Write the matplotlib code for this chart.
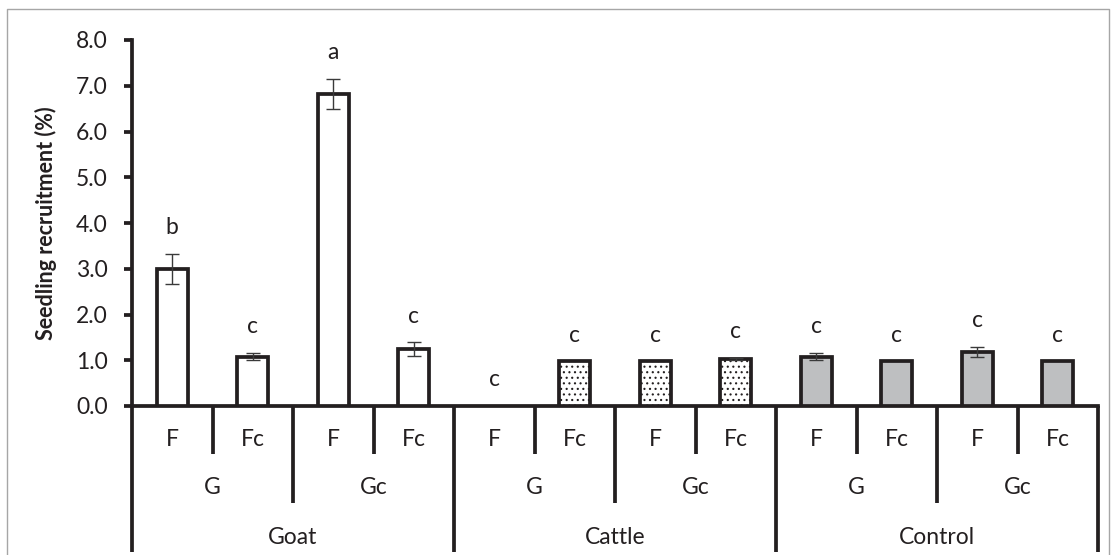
import matplotlib
matplotlib.use("Agg")
import matplotlib.pyplot as plt
from matplotlib.lines import Line2D

plt.rcParams["font.family"] = ["Lato", "DejaVu Sans"]
plt.rcParams["hatch.linewidth"] = 0.8

# ── Data ───────────────────────────────────────────────────────────────────
animals = ["Goat", "Cattle", "Control"]
g_levels = ["G", "Gc"]
f_levels = ["F", "Fc"]

means = [3.00, 1.08, 6.82, 1.24,      # Goat
         0.00, 0.98, 0.98, 1.03,      # Cattle
         1.08, 0.98, 1.18, 0.98]      # Control
errors = [0.33, 0.08, 0.33, 0.15,
          0.00, 0.00, 0.00, 0.02,
          0.08, 0.00, 0.11, 0.00]
letters = ["b", "c", "a", "c",
           "c", "c", "c", "c",
           "c", "c", "c", "c"]

# ── Style ──────────────────────────────────────────────────────────────────
INK = "#231F20"
LW = 2.7
FS = 16.5
fills = {"Goat": "white", "Cattle": "white", "Control": "#BEBFC1"}
hatches = {"Goat": None, "Cattle": "...", "Control": None}

fig = plt.figure(figsize=(11.12, 5.55), dpi=100)
ax = fig.add_axes([132 / 1112, 1 - 406 / 555, 966 / 1112, 366 / 555])

n = len(means)
xs = list(range(n))
for i in xs:
    animal = animals[i // 4]
    if means[i] > 0:
        ax.bar(i, means[i], width=0.38, color=fills[animal], edgecolor=INK,
               linewidth=LW, hatch=hatches[animal], zorder=3)
    if errors[i] > 0:
        ax.errorbar(i, means[i], yerr=errors[i], fmt="none", ecolor="#3A3A3A",
                    elinewidth=1.0, capsize=5, capthick=1.0, zorder=4)
    ax.text(i, means[i] + errors[i] + 0.57, letters[i], ha="center",
            va="center", fontsize=FS, color=INK, zorder=5)

ax.set_xlim(-0.5, n - 0.5)
ax.set_ylim(0, 8)
ax.set_yticks([0, 1, 2, 3, 4, 5, 6, 7, 8])
ax.set_yticklabels([f"{v:.1f}" for v in range(9)])
ax.tick_params(axis="y", direction="out", length=5.5, width=LW, pad=12,
               labelsize=FS, colors=INK)
ax.set_xticks([])
for side in ["top", "right"]:
    ax.spines[side].set_visible(False)
for side in ["left", "bottom"]:
    ax.spines[side].set_linewidth(LW)
    ax.spines[side].set_color(INK)
ax.set_ylabel("Seedling recruitment (%)", fontsize=15.5, fontweight="bold",
              color=INK)
ax.yaxis.set_label_coords(-0.078, 0.5)

# ── Hierarchical category axis ─────────────────────────────────────────────
trans = ax.get_xaxis_transform()
h = 366.0
line_bottoms = {1: -48 / h, 2: -97 / h, 3: -146 / h}
for k in range(n + 1):
    lvl = 3 if k % 4 == 0 else (2 if k % 2 == 0 else 1)
    ax.add_line(Line2D([k - 0.5, k - 0.5], [0, line_bottoms[lvl]],
                       transform=trans, color=INK, lw=LW,
                       solid_capstyle="butt", clip_on=False))

for i in xs:
    ax.text(i, -34 / h, f_levels[i % 2], transform=trans, ha="center",
            va="center", fontsize=FS, color=INK)
for j in range(n // 2):
    ax.text(2 * j + 0.5, -82 / h, g_levels[j % 2], transform=trans,
            ha="center", va="center", fontsize=FS, color=INK)
for j, animal in enumerate(animals):
    ax.text(4 * j + 1.5, -131 / h, animal, transform=trans, ha="center",
            va="center", fontsize=FS, color=INK)

# thin outer frame
frame_x = [7 / 1112, 7 / 1112, 1109 / 1112, 1109 / 1112]
frame_y = [0, 1 - 9 / 555, 1 - 9 / 555, 0]
fig.add_artist(Line2D(frame_x, frame_y, transform=fig.transFigure,
                      color="#A6A6A6", lw=1.0))

fig.savefig("out.png", dpi=100)
